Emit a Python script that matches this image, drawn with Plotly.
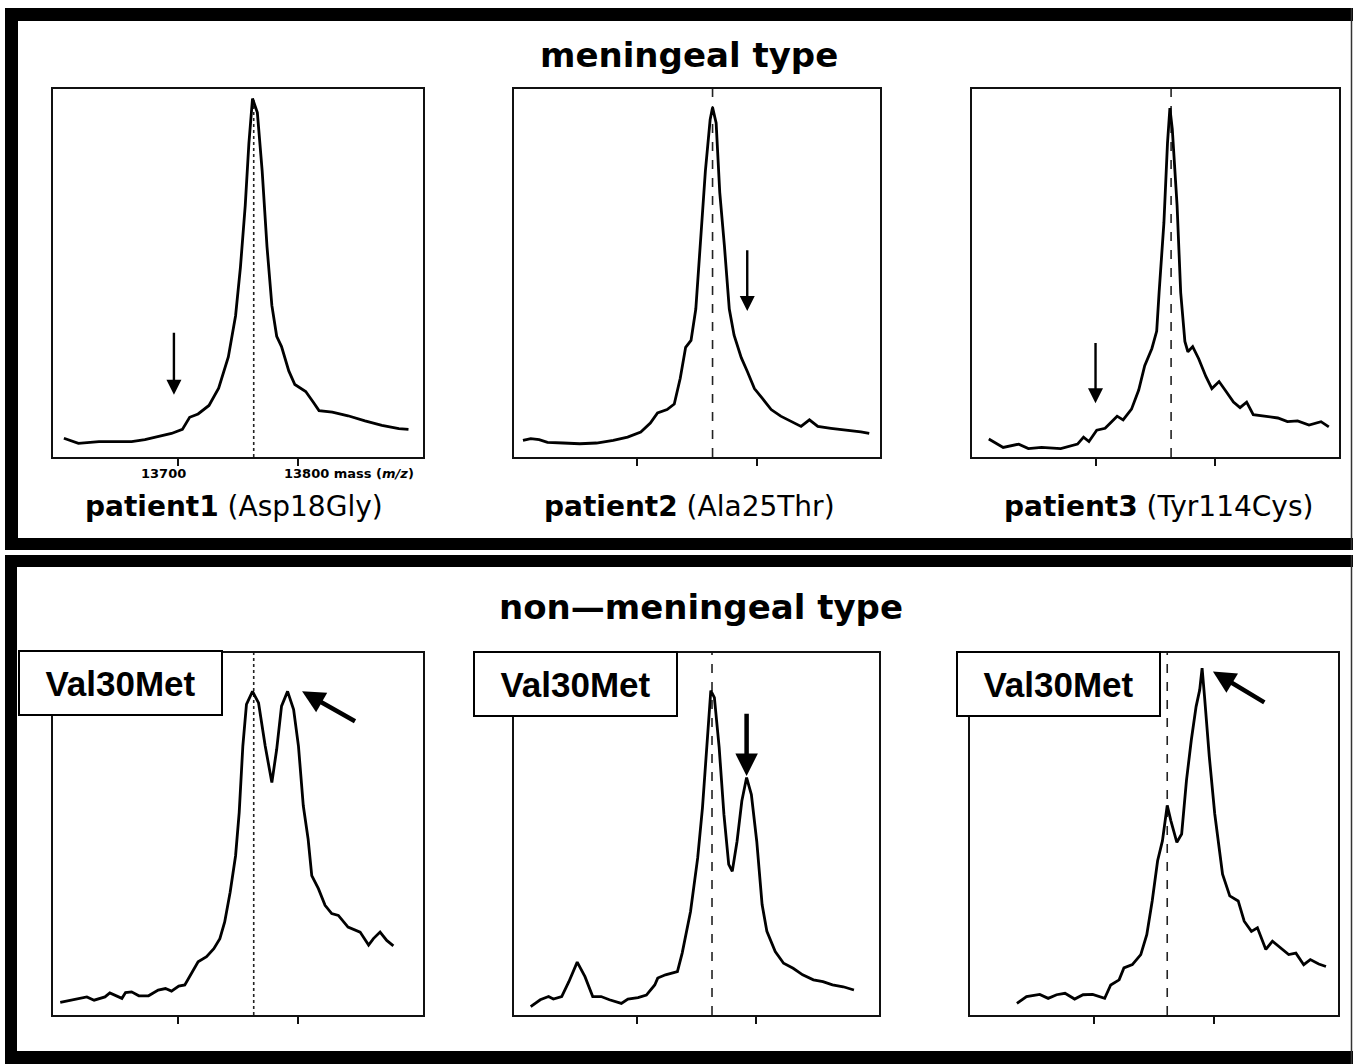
import plotly.graph_objects as go

W, H = 1353, 1064

# ---------------- data ----------------
# x: mass (Da), y: relative intensity (% of panel height)
p1_mass = [13606, 13618, 13635, 13662, 13673, 13684, 13695, 13704, 13710, 13717, 13726, 13734,
           13742, 13748, 13752, 13756, 13759, 13762, 13766, 13770, 13774, 13778, 13782, 13786,
           13792, 13797, 13806, 13812, 13817, 13828, 13841, 13855, 13869, 13883, 13891]
p1_int = [5.1, 3.7, 4.2, 4.2, 4.7, 5.6, 6.4, 7.5, 10.8, 11.7, 14.0, 18.7,
          27.2, 38.4, 51.5, 68.4, 85.2, 97.4, 93.6, 77.7, 57.1, 41.2, 32.8, 30.0,
          23.4, 19.7, 17.8, 15.0, 12.6, 12.2, 11.2, 9.8, 8.6, 7.7, 7.5]

p2_mass = [13604.5, 13611, 13618, 13625, 13638, 13652, 13666, 13680, 13692, 13703, 13711, 13717,
           13725, 13731, 13736, 13740.5, 13745, 13749, 13753, 13757, 13761, 13763, 13766, 13769,
           13773, 13777, 13781, 13787, 13792, 13798, 13805, 13812, 13820, 13828.5, 13837, 13844,
           13851, 13862, 13876, 13887, 13894]
p2_int = [4.5, 5.0, 4.7, 4.0, 3.8, 3.6, 3.8, 4.5, 5.4, 6.8, 9.2, 12.0,
          12.9, 14.4, 21.4, 29.8, 31.7, 40.2, 58.9, 77.7, 91.7, 95.0, 90.8, 72.0,
          57.0, 40.2, 33.1, 27.0, 23.3, 18.6, 15.8, 12.9, 11.1, 9.7, 8.3, 10.1,
          8.3, 7.8, 7.3, 6.8, 6.4]

p3_mass = [13611, 13623, 13636, 13644, 13655, 13671, 13685, 13690, 13694.5, 13701, 13708, 13718,
           13723, 13730, 13736, 13741, 13747, 13751, 13753, 13757, 13760, 13762, 13764, 13768,
           13771, 13774.5, 13777, 13781, 13786, 13792, 13797, 13803, 13808, 13815, 13820.5, 13826,
           13831.5, 13841, 13852, 13860, 13868.5, 13878, 13888, 13894.5]
p3_int = [4.9, 2.6, 3.5, 2.3, 2.6, 2.3, 3.5, 5.4, 4.2, 7.3, 7.8, 11.1,
          10.1, 13.0, 18.2, 24.8, 29.5, 34.2, 44.7, 63.6, 85.3, 94.8, 89.1, 68.3,
          44.7, 31.4, 28.6, 30.0, 26.7, 21.9, 18.6, 20.5, 18.2, 14.9, 13.4, 14.9,
          11.5, 11.1, 10.6, 9.6, 9.8, 8.7, 9.6, 8.2]

p4_mass = [13603, 13615, 13625, 13631, 13640, 13644, 13654, 13657, 13662, 13668, 13676, 13684,
           13690, 13695, 13701, 13706, 13712, 13717, 13724, 13730, 13735, 13739, 13743.5, 13748,
           13751, 13754, 13757, 13762, 13767, 13772.5, 13778, 13782, 13786, 13791, 13796, 13800,
           13804, 13808, 13811, 13816.5, 13822, 13827.5, 13833, 13841, 13851, 13858, 13862,
           13867.5, 13873, 13878.5]
p4_int = [3.5, 4.4, 5.0, 4.1, 5.0, 6.1, 4.6, 6.2, 6.4, 5.3, 5.3, 6.9,
          7.3, 6.6, 8.0, 8.3, 11.9, 14.7, 16.1, 18.3, 21.1, 25.7, 33.9, 44.0,
          56.0, 74.3, 85.8, 89.4, 86.2, 74.3, 64.2, 73.4, 85.3, 89.4, 84.4, 74.3,
          57.8, 48.6, 38.5, 34.9, 30.3, 28.0, 27.5, 24.3, 22.9, 19.3, 21.1,
          22.9, 20.6, 19.1]

p5_mass = [13611, 13619, 13626, 13630, 13637, 13643, 13650, 13656.5, 13663, 13670, 13677, 13687,
           13692.5, 13701, 13708, 13715, 13717.5, 13724, 13734, 13738, 13745, 13751, 13755, 13759,
           13762, 13765, 13769, 13773, 13777, 13780, 13784, 13788, 13792, 13796, 13800.5, 13805,
           13809, 13816, 13823, 13831, 13839, 13848, 13856, 13864, 13873, 13882]
p5_int = [2.3, 4.2, 5.1, 4.4, 5.1, 9.2, 14.6, 10.6, 5.1, 5.1, 4.2, 3.2,
          4.4, 4.8, 5.5, 8.3, 10.2, 11.1, 12.0, 17.1, 28.6, 43.4, 57.2, 75.7,
          89.6, 87.7, 73.9, 55.4, 41.6, 39.7, 48.0, 59.1, 65.6, 60.9, 48.0, 30.5,
          23.1, 17.5, 14.3, 12.9, 11.1, 9.7, 9.2, 8.3, 7.8, 6.9]

p6_mass = [13636, 13644, 13655, 13662, 13669, 13676, 13684, 13691, 13699, 13709, 13714, 13721,
           13725, 13732, 13739, 13744, 13748.5, 13753, 13757, 13761, 13764, 13769, 13773, 13777,
           13781, 13785, 13788, 13790, 13792, 13796, 13800.5, 13805, 13807, 13813, 13820, 13825,
           13831, 13836, 13843, 13848.5, 13855, 13862, 13868, 13874.5, 13880, 13887, 13893]
p6_int = [3.2, 5.1, 5.7, 4.6, 5.6, 6.0, 4.4, 5.6, 5.7, 4.6, 8.3, 9.7,
          13.0, 13.9, 16.7, 22.2, 31.5, 42.6, 48.1, 57.9, 53.7, 47.7, 50.0, 64.8,
          75.9, 85.2, 89.8, 95.8, 88.0, 71.3, 55.6, 43.5, 38.9, 32.9, 31.5, 25.9,
          23.1, 24.1, 18.1, 20.4, 18.5, 16.7, 17.1, 13.9, 15.3, 14.1, 13.4]

masses = [p1_mass, p2_mass, p3_mass, p4_mass, p5_mass, p6_mass]
intensities = [p1_int, p2_int, p3_int, p4_int, p5_int, p6_int]

# wild-type reference mass line in each panel
ref_mass = [13763, 13763, 13763, 13763, 13763, 13761]
ref_top = [97.4, 100, 100, 100, 100, 100]
ref_dash = ["dot", "dash", "dash", "dot", "dash", "dash"]

tick_vals = [13700, 13800]
tick_labels = ["13700", "13800"]
axis_unit = "mass (<i>m/z</i>)"

titles = ["meningeal type", "non\u2014meningeal type"]
patient_names = ["patient1", "patient2", "patient3"]
mutations = ["Asp18Gly", "Ala25Thr", "Tyr114Cys"]
variant_label = "Val30Met"

# arrows: tip and tail in data units of each panel
arrow_tip_mass = [13697, 13792, 13700, 13803, 13792, 13799]
arrow_tip_int = [16.9, 39.7, 14.6, 89.4, 66.0, 94.9]
arrow_tail_mass = [13697, 13792, 13700, 13848, 13792, 13843]
arrow_tail_int = [34.2, 56.6, 31.4, 80.9, 83.6, 86.1]

# ---------------- layout helpers ----------------
def fx(p):
    return p / W


def fy(p):
    return 1 - p / H


panels_px = [(53, 423, 89, 457), (514, 880, 89, 457), (972, 1339, 89, 457),
             (53, 423, 653, 1015), (514, 879, 653, 1015), (970, 1338, 653, 1015)]

X_RANGE = [13597, 13903]
Y_RANGE = [0, 100]

fig = go.Figure()
layout = dict(
    width=W, height=H,
    margin=dict(l=0, r=0, t=0, b=0),
    paper_bgcolor="white", plot_bgcolor="white",
    showlegend=False,
)

for i in range(6):
    n = i + 1
    sfx = "" if n == 1 else str(n)
    x0, x1, y0, y1 = panels_px[i]
    layout["xaxis" + sfx] = dict(
        domain=[fx(x0), fx(x1)], anchor="y" + sfx, range=X_RANGE,
        showline=True, mirror=True, linecolor="#111", linewidth=2,
        ticks="outside", tickvals=tick_vals, ticklen=7, tickwidth=2, tickcolor="#111",
        showticklabels=False, showgrid=False, zeroline=False, fixedrange=True,
    )
    layout["yaxis" + sfx] = dict(
        domain=[fy(y1), fy(y0)], anchor="x" + sfx, range=Y_RANGE,
        showline=True, mirror=True, linecolor="#111", linewidth=2,
        ticks="", showticklabels=False, showgrid=False, zeroline=False, fixedrange=True,
    )
    fig.add_trace(go.Scatter(
        x=masses[i], y=intensities[i], mode="lines",
        line=dict(color="black", width=2.8),
        xaxis="x" + sfx, yaxis="y" + sfx, hoverinfo="skip",
    ))

fig.update_layout(**layout)

shapes = []
# reference lines
for i in range(6):
    n = i + 1
    sfx = "" if n == 1 else str(n)
    shapes.append(dict(type="line", xref="x" + sfx, yref="y" + sfx,
                       x0=ref_mass[i], x1=ref_mass[i], y0=0, y1=ref_top[i],
                       line=dict(color="#222", width=1.6, dash=ref_dash[i]), layer="below"))

# outer thick frames (two boxes)
def rect(x0, x1, y0, y1):
    return dict(type="rect", xref="paper", yref="paper",
                x0=fx(x0), x1=fx(x1), y0=fy(y1), y1=fy(y0),
                fillcolor="black", line=dict(width=0), layer="above")

shapes += [
    rect(5, 1353, 8, 21), rect(5, 18, 8, 550), rect(5, 1353, 538, 550),
    rect(5, 1353, 555, 567), rect(5, 17, 555, 1064), rect(5, 1353, 1051, 1064),
]
for (yt, yb) in [(8, 550), (555, 1064)]:
    shapes.append(dict(type="line", xref="paper", yref="paper",
                       x0=fx(1351.5), x1=fx(1351.5), y0=fy(yb), y1=fy(yt),
                       line=dict(color="#333", width=1.5)))

annotations = []
# group titles
annotations.append(dict(text=titles[0], xref="paper", yref="paper", x=fx(689), y=fy(55),
                        xanchor="center", yanchor="middle", showarrow=False,
                        font=dict(family="DejaVu Sans", size=34, color="black", weight="bold")))
annotations.append(dict(text=titles[1], xref="paper", yref="paper", x=fx(701), y=fy(607),
                        xanchor="center", yanchor="middle", showarrow=False,
                        font=dict(family="DejaVu Sans", size=34, color="black", weight="bold")))

# patient labels
label_cx = [234, 689, 1158]
for k in range(3):
    annotations.append(dict(
        text=f"<b>{patient_names[k]}</b> ({mutations[k]})",
        xref="paper", yref="paper", x=fx(label_cx[k]), y=fy(506),
        xanchor="center", yanchor="middle", showarrow=False,
        font=dict(family="DejaVu Sans", size=28, color="black")))

# panel-1 tick labels
annotations.append(dict(text=tick_labels[0], xref="x", yref="paper", x=tick_vals[0], y=fy(473),
                        xanchor="center", yanchor="middle", xshift=-14, showarrow=False,
                        font=dict(family="DejaVu Sans", size=13, color="black", weight="bold")))
annotations.append(dict(text=tick_labels[1] + " " + axis_unit, xref="x", yref="paper",
                        x=tick_vals[1], y=fy(473), xanchor="left", yanchor="middle", xshift=-16,
                        showarrow=False,
                        font=dict(family="DejaVu Sans", size=13, color="black", weight="bold")))

# Val30Met boxes
box_px = [(18, 650), (473, 651), (956, 651)]
for (bx, by) in box_px:
    annotations.append(dict(
        text=f"<b>{variant_label}</b>", xref="paper", yref="paper",
        x=fx(bx), y=fy(by), xanchor="left", yanchor="top", showarrow=False,
        width=201, height=62, align="center", valign="middle",
        bgcolor="white", bordercolor="black", borderwidth=2, borderpad=0,
        font=dict(family="Liberation Sans", size=35, color="black")))

# arrows
for i in range(6):
    n = i + 1
    sfx = "" if n == 1 else str(n)
    thick = i >= 3
    annotations.append(dict(
        text="", xref="x" + sfx, yref="y" + sfx, axref="x" + sfx, ayref="y" + sfx,
        x=arrow_tip_mass[i], y=arrow_tip_int[i],
        ax=arrow_tail_mass[i], ay=arrow_tail_int[i],
        showarrow=True, arrowhead=2, arrowcolor="black",
        arrowwidth=4.5 if thick else 2.4, arrowsize=1.0 if thick else 1.25,
        standoff=0))

fig.update_layout(shapes=shapes, annotations=annotations)

fig.write_html(
    "out.html",
    config={"displayModeBar": False, "staticPlot": True},
    post_script="document.body.style.margin='0';document.body.style.overflow='hidden';",
)
